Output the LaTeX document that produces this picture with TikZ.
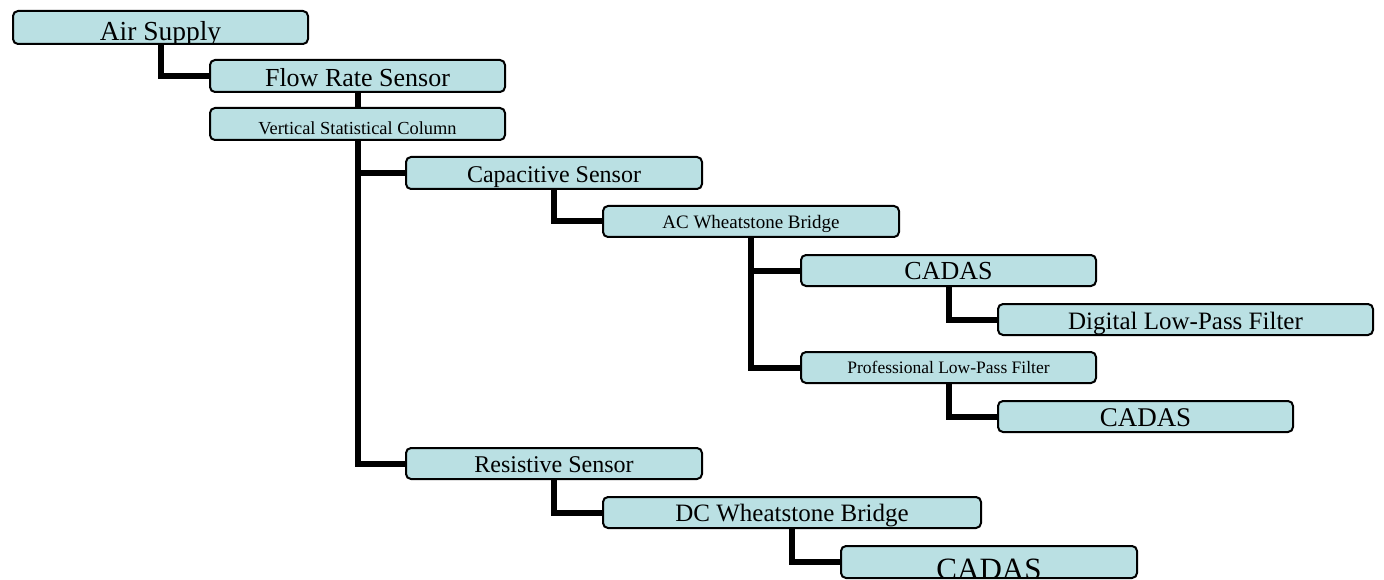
\documentclass[tikz,border=0pt]{standalone}
\usepackage{fontspec}
\setmainfont{Liberation Serif}
\pgfdeclarelayer{bg}
\pgfsetlayers{bg,main}
\definecolor{boxfill}{RGB}{186,224,227}
\tikzset{
  box/.style={draw=black, line width=2pt, rounded corners=5pt, fill=boxfill,
    anchor=north west, inner sep=0pt, minimum height=31pt},
  conn/.style={draw=black, line width=6pt, line join=miter}
}
% #1 name, #2 left, #3 top, #4 width, #5 height, #6 font size, #7 baseline offset from bottom, #8 text
\newcommand\mybox[8]{%
  \node[box, minimum width=#4pt, minimum height=#5pt,
    path picture={\node[anchor=base, inner sep=0pt, font=\fontsize{#6}{#6}\selectfont]
      at ([yshift=#7pt]path picture bounding box.south) {#8};}]
    (#1) at (#2pt,-#3pt) {};}
\begin{document}
\begin{tikzpicture}[x=1pt,y=1pt]
\useasboundingbox (0,0) rectangle (1384,-580);
\mybox{air}{12}{10}{295}{33}{27.5}{3}{Air Supply}
\mybox{flow}{209}{59}{295}{32}{26}{5.7}{Flow Rate Sensor}
\mybox{vsc}{209}{107}{295}{32}{18.4}{5}{Vertical Statistical Column}
\mybox{cap}{405}{156}{296}{32}{24}{6}{Capacitive Sensor}
\mybox{acw}{602}{205}{296}{31}{19}{8}{AC Wheatstone Bridge}
\mybox{cadA}{800}{254}{295}{31}{26}{6.5}{CADAS}
\mybox{dig}{997}{303}{375}{31}{25}{6}{Digital Low-Pass Filter}
\mybox{prof}{800}{351}{295}{31}{17.5}{9.5}{Professional Low-Pass Filter}
\mybox{cadB}{997}{400}{295}{31}{27}{5.5}{CADAS}
\mybox{res}{405}{447}{296}{31}{24}{6.5}{Resistive Sensor}
\mybox{dcw}{602}{496}{378}{31}{25}{6.5}{DC Wheatstone Bridge}
\mybox{cadC}{840}{545}{296}{32}{31}{-1}{CADAS}
\begin{pgfonlayer}{bg}
\draw[conn] (air.south) |- (flow.west);
\draw[conn] (flow.south) -- (vsc.north);
\draw[conn] (vsc.south) |- (cap.west);
\draw[conn] (vsc.south) |- (res.west);
\draw[conn] (cap.south) |- (acw.west);
\draw[conn] (acw.south) |- (cadA.west);
\draw[conn] (acw.south) |- (prof.west);
\draw[conn] (cadA.south) |- (dig.west);
\draw[conn] (prof.south) |- (cadB.west);
\draw[conn] (res.south) |- (dcw.west);
\draw[conn] (dcw.south) |- (cadC.west);
\end{pgfonlayer}
\end{tikzpicture}
\end{document}
